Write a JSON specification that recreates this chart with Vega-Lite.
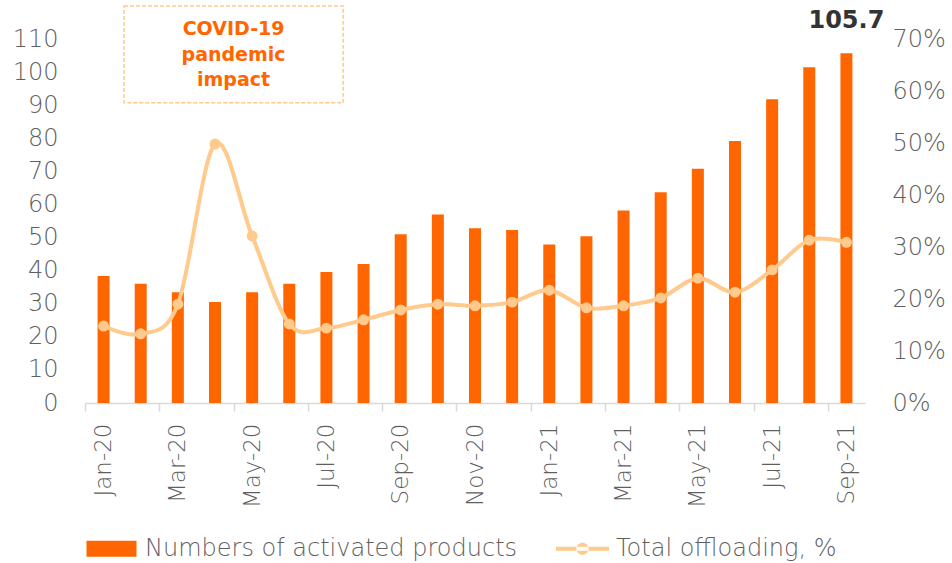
{
  "$schema": "https://vega.github.io/schema/vega-lite/v6.json",
  "width": 780,
  "height": 364,
  "autosize": {"type": "none"},
  "padding": {"left": 85, "top": 39, "right": 87, "bottom": 160},
  "background": "white",
  "config": {
    "view": {"stroke": null},
    "font": "DejaVu Sans",
    "axis": {"grid": false, "labelColor": "#5f5f5f", "labelFontWeight": 300},
    "axisY": {"domain": false, "ticks": false, "labelFontSize": 24, "labelPadding": 27},
    "axisLeft": {"tickCount": 11},
    "axisRight": {"tickCount": 8, "format": ".0%"},
    "axisX": {"domainColor": "#D9D9D9", "domainWidth": 1.5, "tickColor": "#D9D9D9", "tickWidth": 1.5, "tickSize": 8, "labelAngle": 270, "labelFontSize": 23, "labelPadding": 12, "labelOverlap": false, "tickBand": "extent",
      "labelExpr": "test(/^(Jan|Mar|May|Jul|Sep|Nov)/, datum.value) ? datum.value : ''"}
  },
  "datasets": {
    "main": [
      {"month": "Jan-20", "products": 38.4, "offloading": 0.148},
      {"month": "Feb-20", "products": 36.0, "offloading": 0.133},
      {"month": "Mar-20", "products": 33.5, "offloading": 0.190},
      {"month": "Apr-20", "products": 30.5, "offloading": 0.498},
      {"month": "May-20", "products": 33.5, "offloading": 0.321},
      {"month": "Jun-20", "products": 36.0, "offloading": 0.152},
      {"month": "Jul-20", "products": 39.6, "offloading": 0.144},
      {"month": "Aug-20", "products": 42.0, "offloading": 0.160},
      {"month": "Sep-20", "products": 51.0, "offloading": 0.179},
      {"month": "Oct-20", "products": 57.0, "offloading": 0.190},
      {"month": "Nov-20", "products": 52.8, "offloading": 0.187},
      {"month": "Dec-20", "products": 52.3, "offloading": 0.194},
      {"month": "Jan-21", "products": 47.9, "offloading": 0.217},
      {"month": "Feb-21", "products": 50.4, "offloading": 0.183},
      {"month": "Mar-21", "products": 58.2, "offloading": 0.187},
      {"month": "Apr-21", "products": 63.7, "offloading": 0.202},
      {"month": "May-21", "products": 70.8, "offloading": 0.240},
      {"month": "Jun-21", "products": 79.2, "offloading": 0.213},
      {"month": "Jul-21", "products": 91.8, "offloading": 0.256},
      {"month": "Aug-21", "products": 101.5, "offloading": 0.313},
      {"month": "Sep-21", "products": 105.7, "offloading": 0.309}
    ],
    "box": [{"start": "Feb-20", "end": "Jul-20", "top": 120, "bottom": 90.7}],
    "notes": [
      {"month": "May-20", "y": 113.0, "label": "COVID-19"},
      {"month": "May-20", "y": 105.2, "label": "pandemic"},
      {"month": "May-20", "y": 97.6, "label": "impact"}
    ]
  },
  "layer": [
    {
      "layer": [
        {
          "data": {"name": "main"},
          "mark": {"type": "bar", "width": 12},
          "encoding": {
            "x": {
              "field": "month", "type": "ordinal", "title": null,
              "scale": {"domain": ["Jan-20","Feb-20","Mar-20","Apr-20","May-20","Jun-20","Jul-20","Aug-20","Sep-20","Oct-20","Nov-20","Dec-20","Jan-21","Feb-21","Mar-21","Apr-21","May-21","Jun-21","Jul-21","Aug-21","Sep-21"], "paddingInner": 0, "paddingOuter": 0},
              "axis": {"tickOpacity": {"condition": {"test": "!test(/^(Jan|Mar|May|Jul|Sep|Nov)/, datum.value) || datum.extra", "value": 1}, "value": 0}}
            },
            "y": {"field": "products", "type": "quantitative", "title": null, "scale": {"domain": [0, 110]}},
            "color": {
              "datum": "Numbers of activated products",
              "scale": {"domain": ["Numbers of activated products", "Total offloading, %"], "range": ["#FF6600", "#FFCA8C"]},
              "legend": {
                "title": null, "orient": "bottom", "direction": "horizontal", "columnPadding": 38,
                "symbolSize": 2809, "labelFontSize": 24, "labelFontWeight": 300, "labelColor": "#5f5f5f", "labelLimit": 600, "labelOffset": 7, "offset": 14,
                "encode": {"symbols": {"update": {
                  "shape": {"signal": "datum.value === 'Numbers of activated products' ? 'M-1,-0.32H1V0.32H-1Z' : 'M-1,-0.075H1V0.075H-1Z M-0.23,0A0.23,0.23 0 1,0 0.23,0A0.23,0.23 0 1,0 -0.23,0Z'"},
                  "size": {"signal": "datum.value === 'Numbers of activated products' ? 2500 : 2809"},
                  "fill": {"signal": "datum.value === 'Numbers of activated products' ? '#FF6600' : '#FFCA8C'"},
                  "stroke": {"value": "transparent"},
                  "strokeWidth": {"value": 0},
                  "opacity": {"value": 1}
                }}}
              }
            }
          }
        },
        {
          "data": {"name": "box"},
          "mark": {"type": "rect", "fillOpacity": 0, "fill": "white", "stroke": "#FFC98A", "strokeDash": [4, 2], "strokeWidth": 1.5},
          "encoding": {
            "x": {"field": "start", "type": "ordinal", "bandPosition": 0.05, "title": null,
              "scale": {"domain": ["Jan-20","Feb-20","Mar-20","Apr-20","May-20","Jun-20","Jul-20","Aug-20","Sep-20","Oct-20","Nov-20","Dec-20","Jan-21","Feb-21","Mar-21","Apr-21","May-21","Jun-21","Jul-21","Aug-21","Sep-21"], "paddingInner": 0, "paddingOuter": 0},
              "axis": {"tickOpacity": {"condition": {"test": "!test(/^(Jan|Mar|May|Jul|Sep|Nov)/, datum.value) || datum.extra", "value": 1}, "value": 0}}},
            "x2": {"field": "end", "bandPosition": 0.95},
            "y": {"field": "top", "type": "quantitative", "title": null, "scale": {"domain": [0, 110]}},
            "y2": {"field": "bottom"}
          }
        },
        {
          "data": {"name": "notes"},
          "mark": {"type": "text", "fontSize": 19, "fontWeight": "bold", "color": "#FF6600", "baseline": "middle"},
          "encoding": {
            "x": {"field": "month", "type": "ordinal", "bandPosition": 0, "title": null,
              "scale": {"domain": ["Jan-20","Feb-20","Mar-20","Apr-20","May-20","Jun-20","Jul-20","Aug-20","Sep-20","Oct-20","Nov-20","Dec-20","Jan-21","Feb-21","Mar-21","Apr-21","May-21","Jun-21","Jul-21","Aug-21","Sep-21"], "paddingInner": 0, "paddingOuter": 0},
              "axis": {"tickOpacity": {"condition": {"test": "!test(/^(Jan|Mar|May|Jul|Sep|Nov)/, datum.value) || datum.extra", "value": 1}, "value": 0}}},
            "y": {"field": "y", "type": "quantitative", "title": null, "scale": {"domain": [0, 110]}},
            "text": {"field": "label"}
          }
        },
        {
          "data": {"name": "main"},
          "transform": [{"filter": "datum.month === 'Sep-21'"}],
          "mark": {"type": "text", "fontSize": 24, "fontWeight": "bold", "color": "#333333", "baseline": "middle", "dy": -32},
          "encoding": {
            "x": {"field": "month", "type": "ordinal", "title": null,
              "scale": {"domain": ["Jan-20","Feb-20","Mar-20","Apr-20","May-20","Jun-20","Jul-20","Aug-20","Sep-20","Oct-20","Nov-20","Dec-20","Jan-21","Feb-21","Mar-21","Apr-21","May-21","Jun-21","Jul-21","Aug-21","Sep-21"], "paddingInner": 0, "paddingOuter": 0},
              "axis": {"tickOpacity": {"condition": {"test": "!test(/^(Jan|Mar|May|Jul|Sep|Nov)/, datum.value) || datum.extra", "value": 1}, "value": 0}}},
            "y": {"field": "products", "type": "quantitative", "title": null, "scale": {"domain": [0, 110]}},
            "text": {"field": "products", "type": "quantitative", "format": ".1f"}
          }
        }
      ]
    },
    {
      "data": {"name": "main"},
      "layer": [
        {
          "mark": {"type": "line", "interpolate": "cardinal", "strokeWidth": 4},
          "encoding": {
            "x": {"field": "month", "type": "ordinal", "title": null,
              "scale": {"domain": ["Jan-20","Feb-20","Mar-20","Apr-20","May-20","Jun-20","Jul-20","Aug-20","Sep-20","Oct-20","Nov-20","Dec-20","Jan-21","Feb-21","Mar-21","Apr-21","May-21","Jun-21","Jul-21","Aug-21","Sep-21"], "paddingInner": 0, "paddingOuter": 0},
              "axis": {"tickOpacity": {"condition": {"test": "!test(/^(Jan|Mar|May|Jul|Sep|Nov)/, datum.value) || datum.extra", "value": 1}, "value": 0}}},
            "y": {
              "field": "offloading", "type": "quantitative", "title": null,
              "scale": {"domain": [0, 0.7]},
              "axis": {"orient": "right", "format": ".0%"}
            },
            "color": {
              "datum": "Total offloading, %",
              "scale": {"domain": ["Numbers of activated products", "Total offloading, %"], "range": ["#FF6600", "#FFCA8C"]}
            }
          }
        },
        {
          "mark": {"type": "circle", "size": 120, "opacity": 1, "color": "#FFCA8C"},
          "encoding": {
            "x": {"field": "month", "type": "ordinal", "title": null,
              "scale": {"domain": ["Jan-20","Feb-20","Mar-20","Apr-20","May-20","Jun-20","Jul-20","Aug-20","Sep-20","Oct-20","Nov-20","Dec-20","Jan-21","Feb-21","Mar-21","Apr-21","May-21","Jun-21","Jul-21","Aug-21","Sep-21"], "paddingInner": 0, "paddingOuter": 0},
              "axis": {"tickOpacity": {"condition": {"test": "!test(/^(Jan|Mar|May|Jul|Sep|Nov)/, datum.value) || datum.extra", "value": 1}, "value": 0}}},
            "y": {"field": "offloading", "type": "quantitative", "title": null, "scale": {"domain": [0, 0.7]}, "axis": {"orient": "right", "format": ".0%"}}
          }
        }
      ]
    }
  ],
  "resolve": {"scale": {"y": "independent"}}
}
